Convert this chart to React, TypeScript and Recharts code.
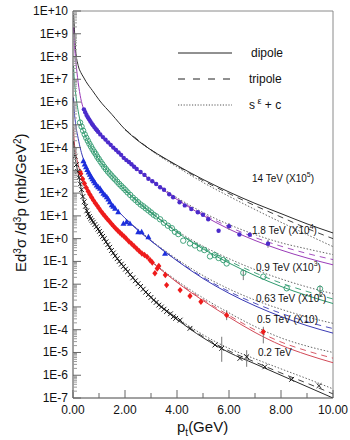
import React from 'react';
import { ComposedChart, Line, Scatter, XAxis, YAxis, ReferenceLine, ErrorBar } from 'recharts';

// ---- curve grids (pt in GeV) ----
const curveX = [0.02, 0.05, 0.1, 0.2, 0.3, 0.4, 0.5, 0.75, 1, 1.5, 2, 2.5, 3, 3.5, 4, 5, 6, 7, 8, 9, 10];
const tailX = [2, 3, 4, 5, 6, 7, 8, 9, 10];

// curve values as decade exponents
const dipole14 = [9.9, 9.3, 8.3, 7.6, 7.3, 7.1, 6.9, 6.5, 6.1, 5.45, 4.8, 4.3, 3.9, 3.55, 3.22, 2.6, 2.05, 1.55, 1.1, 0.65, 0.25];
const dipole18 = [9.3, 8.6, 7.9, 6.85, 6.15, 5.72, 5.42, 4.95, 4.6, 4.0, 3.48, 3.0, 2.55, 2.12, 1.72, 1.02, 0.42, -0.08, -0.5, -0.85, -1.15];
const dipole09 = [7.6, 7.0, 6.4, 5.6, 5.05, 4.72, 4.45, 3.92, 3.47, 2.75, 2.14, 1.6, 1.14, 0.7, 0.28, -0.45, -1.07, -1.62, -2.1, -2.5, -2.85];
const dipole063 = [6.2, 5.6, 5.05, 4.4, 3.88, 3.5, 3.2, 2.62, 2.2, 1.5, 0.9, 0.36, -0.1, -0.55, -0.97, -1.75, -2.4, -2.95, -3.42, -3.82, -4.15];
const dipole05 = [4.9, 4.25, 3.8, 3.25, 2.82, 2.5, 2.25, 1.75, 1.3, 0.6, 0.05, -0.48, -1.0, -1.47, -1.92, -2.72, -3.45, -4.12, -4.68, -5.1, -5.45];
const dipole02 = [4.3, 3.9, 3.45, 2.85, 2.28, 1.72, 1.35, 0.8, 0.35, -0.55, -1.3, -1.98, -2.58, -3.1, -3.55, -4.35, -5.0, -5.5, -6.0, -6.5, -7.0];

const tripole14 = [4.8, 3.9, 3.2, 2.55, 1.98, 1.45, 0.95, 0.45, 0.0];
const sec14 = [4.8, 3.88, 3.15, 2.47, 1.86, 1.28, 0.72, 0.18, -0.35];
const tripole18 = [3.48, 2.56, 1.75, 1.08, 0.52, 0.05, -0.33, -0.65, -0.92];
const sec18 = [3.48, 2.58, 1.8, 1.15, 0.62, 0.18, -0.18, -0.45, -0.7];
const tripole09 = [2.14, 1.15, 0.3, -0.4, -0.98, -1.5, -1.95, -2.32, -2.65];
const sec09 = [2.14, 1.17, 0.34, -0.33, -0.88, -1.36, -1.77, -2.12, -2.42];
const tripole063 = [0.9, -0.09, -0.95, -1.7, -2.32, -2.84, -3.28, -3.65, -3.95];
const sec063 = [0.9, -0.07, -0.9, -1.62, -2.21, -2.7, -3.1, -3.44, -3.72];
const tripole05 = [0.05, -0.99, -1.9, -2.67, -3.37, -4.01, -4.54, -4.93, -5.25];
const sec05 = [0.05, -0.97, -1.85, -2.6, -3.26, -3.86, -4.36, -4.72, -5.0];
const tripole02 = [-1.3, -2.57, -3.52, -4.3, -4.93, -5.42, -5.9, -6.35, -6.82];
const sec02 = [-1.3, -2.55, -3.47, -4.22, -4.82, -5.28, -5.72, -6.15, -6.6];

// ---- measured points (pt, decade exponent) ----
const purpleX = [0.42,0.47,0.52,0.57,0.62,0.67,0.72,0.77,0.82,0.87,0.92,0.97,1.05,1.15,1.25,1.35,1.45,1.55,1.65,1.75,1.85,1.95,2.05,2.15,2.25,2.35,2.45,2.6,2.75,2.9,3.05,3.2,3.35,3.5,3.7,3.85,4.1,4.3,4.55,4.8,5.0,5.2,5.6,6.0,6.4,6.8,7.5];
const purpleExp = [5.68,5.55,5.43,5.33,5.24,5.15,5.06,4.98,4.9,4.83,4.76,4.69,4.58,4.46,4.35,4.23,4.12,4.0,3.9,3.79,3.68,3.55,3.45,3.37,3.27,3.16,3.06,2.93,2.8,2.63,2.52,2.4,2.26,2.15,1.95,1.82,1.6,1.46,1.3,1.16,1.05,0.85,0.35,0.55,0.18,0.17,-0.22];

const greenX = [0.27,0.33,0.39,0.45,0.51,0.57,0.63,0.69,0.75,0.81,0.87,0.93,0.99,1.06,1.13,1.2,1.27,1.34,1.41,1.48,1.55,1.62,1.7,1.78,1.86,1.94,2.02,2.1,2.2,2.3,2.4,2.5,2.6,2.7,2.8,2.9,3.0,3.1,3.2,3.35,3.5,3.65,3.8,3.92,4.05,4.24,4.5,4.69,4.88,5.05,5.27,5.45,5.6,5.78,5.91,6.55,7.32,8.22,9.5];
const greenExp = [5.1,4.92,4.74,4.58,4.43,4.3,4.17,4.05,3.93,3.82,3.72,3.6,3.5,3.38,3.27,3.15,3.05,2.95,2.86,2.77,2.68,2.6,2.5,2.4,2.31,2.22,2.13,2.03,1.92,1.8,1.7,1.6,1.5,1.42,1.33,1.24,1.15,1.05,0.98,0.85,0.7,0.57,0.46,0.3,0.2,-0.09,-0.21,-0.3,-0.43,-0.5,-0.78,-0.72,-0.85,-0.94,-1.09,-1.5,-1.67,-2.18,-2.2];

const blueX = [0.4,0.45,0.5,0.55,0.6,0.65,0.7,0.75,0.8,0.85,0.91,0.97,1.04,1.1,1.17,1.23,1.3,1.36,1.42,1.49,1.55,1.62,1.74,1.94,2.06,2.19,2.51,2.64,2.9,3.54];
const blueExp = [3.42,3.27,3.15,3.03,2.92,2.82,2.72,2.63,2.54,2.45,2.35,2.28,2.21,2.1,1.99,1.92,1.84,1.74,1.62,1.48,1.42,1.33,1.18,0.67,0.74,0.67,0.3,0.3,0.08,-0.65];

const redX = [0.27,0.3,0.37,0.44,0.51,0.58,0.65,0.72,0.79,0.86,0.93,1.0,1.08,1.16,1.24,1.32,1.4,1.48,1.56,1.64,1.72,1.8,1.88,1.96,2.05,2.15,2.25,2.35,2.45,2.55,2.65,2.75,2.85,2.96,3.05,3.15,3.24,3.3,3.55,3.6,4.12,4.5,4.92,5.91,7.32];
const redExp = [2.94,2.85,2.62,2.42,2.24,2.08,1.94,1.81,1.68,1.56,1.45,1.33,1.2,1.08,0.97,0.86,0.76,0.65,0.55,0.45,0.36,0.27,0.18,0.1,0.0,-0.12,-0.22,-0.33,-0.44,-0.55,-0.65,-0.72,-0.8,-0.94,-1.05,-1.52,-1.31,-1.2,-1.6,-2.04,-2.26,-2.52,-2.77,-3.36,-4.09];

const blackX = [0.08,0.13,0.18,0.23,0.28,0.33,0.38,0.43,0.48,0.53,0.58,0.63,0.68,0.73,0.78,0.84,0.9,0.96,1.02,1.08,1.14,1.2,1.27,1.34,1.41,1.48,1.55,1.62,1.7,1.78,1.86,1.94,2.02,2.1,2.2,2.3,2.4,2.5,2.6,2.7,2.8,2.9,3.0,3.1,3.2,3.3,3.4,3.5,3.6,3.75,3.86,3.95,4.12,4.5,5.46,5.72,6.42,6.68,7.38,8.41,9.46];
const blackExp = [3.62,3.25,2.95,2.68,2.4,2.15,1.85,1.62,1.42,1.22,1.08,0.97,0.88,0.8,0.72,0.62,0.52,0.42,0.32,0.21,0.1,0.0,-0.14,-0.26,-0.38,-0.52,-0.63,-0.76,-0.88,-1.0,-1.12,-1.22,-1.34,-1.45,-1.58,-1.72,-1.85,-1.98,-2.1,-2.22,-2.35,-2.46,-2.58,-2.7,-2.8,-2.92,-3.0,-3.1,-3.2,-3.3,-3.43,-3.5,-3.58,-3.94,-4.67,-4.82,-5.26,-5.19,-5.63,-6.18,-6.46];

// error bars: pt, centre exponent, lower end exponent, upper end exponent
const errX = [6.0, 7.5, 6.55, 9.5, 5.91, 7.32, 5.72, 6.68];
const errMid = [0.55, -0.22, -1.5, -2.2, -3.36, -4.09, -4.82, -5.19];
const errLo = [0.38, -0.4, -1.82, -2.48, -3.58, -4.6, -5.41, -5.63];
const errHi = [0.69, -0.05, -1.38, -2.05, -3.14, -3.87, -4.31, -4.9];

// axis ticks
const decades = [-7, -6, -5, -4, -3, -2, -1, 0, 1, 2, 3, 4, 5, 6, 7, 8, 9];
const mantissas = [1, 2, 3, 4, 5, 6, 7, 8, 9];
const xTicks = [0, 1, 2, 3, 4, 5, 6, 7, 8, 9, 10];

const FONT = '"Liberation Sans", Arial, Helvetica, sans-serif';

const pts = (xs: number[], ex: number[]) => xs.map((x, i) => ({ x, y: Math.pow(10, ex[i]) }));

const yTicks: number[] = [];
decades.forEach((d) => mantissas.forEach((m) => yTicks.push(m * Math.pow(10, d))));
yTicks.push(1e10);

const errData = errX.map((x, i) => {
  const y = Math.pow(10, errMid[i]);
  return { x, y, err: [y - Math.pow(10, errLo[i]), Math.pow(10, errHi[i]) - y] };
});

const COL = {
  c14: '#2b2b2b',
  c18: '#9a3cb8',
  c09: '#2f9a6e',
  c063: '#3a3ab4',
  c05: '#d24a58',
  c02: '#2b2b2b',
  dot: '#555555',
};

const YTick = (props: any) => {
  const { x, y, payload } = props;
  const v = payload.value as number;
  const e = Math.log10(v);
  const major = Math.abs(e - Math.round(e)) < 1e-6;
  const ex = Math.round(e);
  return (
    <g>
      <line x1={x} x2={x + (major ? 8 : 4)} y1={y} y2={y} stroke={major ? '#666' : '#9a9a9a'} strokeWidth={1} />
      {major && (
        <text x={x - 5} y={y + 4} textAnchor="end" fontSize={12} fontFamily={FONT} fill="#111">
          {`1E${ex >= 0 ? '+' : ''}${ex}`}
        </text>
      )}
    </g>
  );
};

const XTick = (props: any) => {
  const { x, y, payload } = props;
  const v = payload.value as number;
  const major = v % 2 === 0;
  return (
    <g>
      <line x1={x} x2={x} y1={y} y2={y - (major ? 8 : 5)} stroke="#666" strokeWidth={1} />
      {major && (
        <text x={x} y={y + 16} textAnchor="middle" fontSize={12} fontFamily={FONT} fill="#111">
          {v.toFixed(2)}
        </text>
      )}
    </g>
  );
};

const PurpleDot = (p: any) => <circle cx={p.cx} cy={p.cy} r={2.2} fill="#4b2bcb" />;
const GreenRing = (p: any) => <circle cx={p.cx} cy={p.cy} r={2.7} fill="none" stroke="#2f9a6e" strokeWidth={0.9} />;
const BlueTri = (p: any) => (
  <polygon points={`${p.cx},${p.cy - 3} ${p.cx - 3},${p.cy + 2.4} ${p.cx + 3},${p.cy + 2.4}`} fill="#1d2fdc" />
);
const RedDiamond = (p: any) => (
  <polygon points={`${p.cx},${p.cy - 3.2} ${p.cx + 2.6},${p.cy} ${p.cx},${p.cy + 3.2} ${p.cx - 2.6},${p.cy}`} fill="#ee1b1b" />
);
const BlackCross = (p: any) => (
  <g stroke="#1a1a1a" strokeWidth={1}>
    <line x1={p.cx - 2.4} y1={p.cy - 2.4} x2={p.cx + 2.4} y2={p.cy + 2.4} />
    <line x1={p.cx - 2.4} y1={p.cy + 2.4} x2={p.cx + 2.4} y2={p.cy - 2.4} />
  </g>
);
const NoShape = () => <g />;

const groups = [
  { key: '14', col: COL.c14, dip: dipole14, tri: tripole14, sec: sec14 },
  { key: '18', col: COL.c18, dip: dipole18, tri: tripole18, sec: sec18 },
  { key: '09', col: COL.c09, dip: dipole09, tri: tripole09, sec: sec09 },
  { key: '063', col: COL.c063, dip: dipole063, tri: tripole063, sec: sec063 },
  { key: '05', col: COL.c05, dip: dipole05, tri: tripole05, sec: sec05 },
  { key: '02', col: COL.c02, dip: dipole02, tri: tripole02, sec: sec02 },
];

const Sup = ({ children, size = 7 }: { children: React.ReactNode; size?: number }) => (
  <tspan fontSize={size} dy={-5}>{children}</tspan>
);

export default function App() {
  return (
    <div style={{ position: 'absolute', left: 0, top: 0, width: 350, height: 440, background: '#fff' }}>
      <ComposedChart width={350} height={440} margin={{ top: 11, right: 17, bottom: 0, left: 0 }}>
        <XAxis
          dataKey="x"
          type="number"
          domain={[0, 10]}
          ticks={xTicks}
          interval={0}
          allowDataOverflow
          height={42}
          tickSize={0}
          tickMargin={0}
          tickLine={false}
          axisLine={{ stroke: '#444' }}
          tick={<XTick />}
        />
        <YAxis
          dataKey="y"
          type="number"
          scale="log"
          domain={[1e-7, 1e10]}
          ticks={yTicks}
          interval={0}
          allowDataOverflow
          width={73}
          tickSize={0}
          tickMargin={0}
          tickLine={false}
          axisLine={{ stroke: '#444' }}
          tick={<YTick />}
        />
        <ReferenceLine y={1e10} stroke="#8a8a8a" ifOverflow="extendDomain" />
        <ReferenceLine x={10} stroke="#8a8a8a" ifOverflow="extendDomain" />

        {groups.map((g) => (
          <Line
            key={'sec' + g.key}
            data={pts(tailX, g.sec)}
            dataKey="y"
            type="monotone"
            stroke={COL.dot}
            strokeWidth={0.9}
            strokeDasharray="1.5 1.8"
            dot={false}
            isAnimationActive={false}
          />
        ))}
        {groups.map((g) => (
          <Line
            key={'tri' + g.key}
            data={pts(tailX, g.tri)}
            dataKey="y"
            type="monotone"
            stroke={g.col}
            strokeWidth={0.9}
            strokeDasharray="6 5"
            dot={false}
            isAnimationActive={false}
          />
        ))}
        {groups.map((g) => (
          <Line
            key={'dip' + g.key}
            data={pts(curveX, g.dip)}
            dataKey="y"
            type="monotone"
            stroke={g.col}
            strokeWidth={1}
            dot={false}
            isAnimationActive={false}
          />
        ))}

        <Scatter data={errData} dataKey="y" shape={<NoShape />} isAnimationActive={false}>
          <ErrorBar dataKey="err" direction="y" width={0} stroke="#777" strokeWidth={1} />
        </Scatter>
        <Scatter data={pts(purpleX, purpleExp)} dataKey="y" shape={<PurpleDot />} isAnimationActive={false} />
        <Scatter data={pts(greenX, greenExp)} dataKey="y" shape={<GreenRing />} isAnimationActive={false} />
        <Scatter data={pts(blueX, blueExp)} dataKey="y" shape={<BlueTri />} isAnimationActive={false} />
        <Scatter data={pts(redX, redExp)} dataKey="y" shape={<RedDiamond />} isAnimationActive={false} />
        <Scatter data={pts(blackX, blackExp)} dataKey="y" shape={<BlackCross />} isAnimationActive={false} />
      </ComposedChart>

      <svg
        width={350}
        height={440}
        style={{ position: 'absolute', left: 0, top: 0, pointerEvents: 'none' }}
        fontFamily={FONT}
      >
        {/* legend */}
        <line x1={178} x2={232} y1={53} y2={53} stroke="#222" strokeWidth={1} />
        <line x1={178} x2={232} y1={79} y2={79} stroke="#222" strokeWidth={1} strokeDasharray="7 8" />
        <line x1={178} x2={232} y1={105} y2={105} stroke="#444" strokeWidth={0.9} strokeDasharray="1.2 1.6" />
        <text x={251} y={57} fontSize={12} fill="#111">dipole</text>
        <text x={249} y={83} fontSize={12} fill="#111">tripole</text>
        <text x={249} y={109} fontSize={12} fill="#111">
          s<tspan fontSize={9} dy={-5}> ε</tspan>
          <tspan dy={5}> + c</tspan>
        </text>

        {/* series labels */}
        <text x={252} y={182} fontSize={10} fill="#111">
          14 TeV (X10<Sup>5</Sup><tspan dy={5}>)</tspan>
        </text>
        <text x={252} y={234} fontSize={10} fill="#111">
          1.8 TeV (X10<Sup>4</Sup><tspan dy={5}>)</tspan>
        </text>
        <text x={256} y={271} fontSize={10} fill="#111">
          0.9 TeV (X10<Sup>3</Sup><tspan dy={5}>)</tspan>
        </text>
        <text x={256} y={302} fontSize={10} fill="#111">
          0.63 TeV (X10<Sup>2</Sup><tspan dy={5}>)</tspan>
        </text>
        <text x={257} y={323} fontSize={10} fill="#111">0.5 TeV (X10)</text>
        <text x={258} y={356} fontSize={10} fill="#111">0.2 TeV</text>

        {/* axis titles */}
        <text transform="translate(26,272) rotate(-90)" textAnchor="start" fontSize={15} fill="#111">
          Ed<Sup size={10}>3</Sup>
          <tspan dy={5}>σ /d</tspan>
          <Sup size={10}>3</Sup>
          <tspan dy={5}>p (mb/GeV</tspan>
          <Sup size={10}>2</Sup>
          <tspan dy={5}>)</tspan>
        </text>
        <text x={177} y={432} fontSize={15} fill="#111">
          p<tspan fontSize={10} dy={4}>t</tspan>
          <tspan dy={-4}>(GeV)</tspan>
        </text>
      </svg>
    </div>
  );
}
